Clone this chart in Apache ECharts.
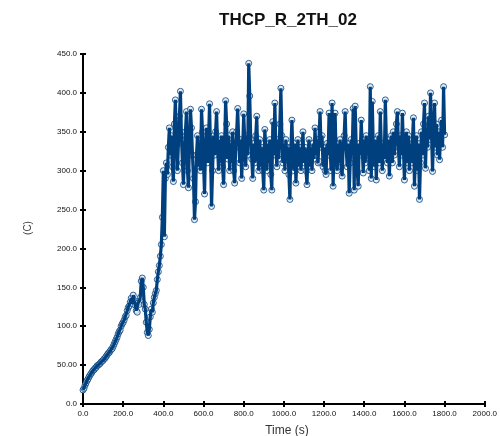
<!DOCTYPE html>
<html>
<head>
<meta charset="utf-8">
<script src="https://cdn.jsdelivr.net/npm/echarts@6/dist/echarts.min.js"></script>
<style>
html,body{margin:0;padding:0;background:#fff;}
#chart{width:500px;height:436px;}
</style>
</head>
<body>
<div id="chart"></div>
<script>
// Sampling grid (seconds)
const sampleStep = 5;
// Temperature (C), t = 0 .. 400 s
const tempRise = [
  18,20,24,27,30,32,35,37,39,41,
  43,44,46,47,49,50,51,52,54,55,
  56,58,59,61,63,65,66,68,70,71,
  74,77,80,83,86,90,93,95,100,103,
  105,108,112,114,120,124,126,131,136,129,
  140,133,127,120,118,130,128,137,158,162,
  150,128,122,105,92,88,96,112,122,118,
  130,137,142,146,160,170,178,190,205,240,
  300
];
// Temperature (C), t = 405 .. 1800 s
const tempPlateau = [
  215,290,310,295,330,355,320,345,305,286,
  360,391,340,300,335,370,402,345,310,282,
  325,350,376,300,278,340,379,355,320,290,
  237,260,320,345,305,335,300,379,350,310,
  270,330,355,310,340,386,320,254,300,345,
  320,350,376,330,300,340,310,345,305,282,
  330,390,360,315,345,300,335,310,350,300,
  284,330,350,380,340,310,340,290,330,373,
  340,305,345,320,438,396,340,315,290,335,
  310,345,370,320,300,340,305,330,300,275,
  353,330,300,335,310,340,295,275,363,320,
  387,330,305,340,315,360,406,345,310,335,
  300,340,315,330,295,263,330,365,320,300,
  335,284,320,340,305,330,300,325,350,310,
  330,300,282,320,340,305,330,300,335,315,
  355,320,340,310,312,376,330,345,305,330,
  300,295,335,320,374,330,300,387,280,330,
  374,320,300,335,310,340,305,293,330,345,
  376,330,305,335,271,310,340,320,380,275,
  383,330,300,280,335,320,365,330,297,340,
  310,345,320,340,300,408,290,389,330,305,
  340,288,325,345,310,376,330,300,335,315,
  391,340,310,340,293,330,345,310,350,320,
  340,360,376,330,305,345,320,374,330,288,
  330,350,310,345,300,335,310,340,368,280,
  320,345,300,335,263,310,350,320,360,387,
  303,350,330,370,340,400,350,299,345,387,
  330,360,320,350,314,345,365,330,408,346
];
const xTicks = [0,200,400,600,800,1000,1200,1400,1600,1800,2000];
const yTicks = [0,50,100,150,200,250,300,350,400,450];
const chartTitle = 'THCP_R_2TH_02';
const xName = 'Time (s)';
const yName = '(C)';

const temps = tempRise.concat(tempPlateau);
const seriesData = temps.map((v, i) => [i * sampleStep, v]);

const lineColor = '#00407f';
const labelFont = '"Liberation Sans Narrow", "Arial Narrow", "Liberation Sans", sans-serif';
const axisBase = {
  type: 'value',
  splitLine: { show: false },
  axisLine: { show: true, onZero: false, lineStyle: { color: '#000', width: 2 } },
  axisTick: { show: true, inside: false, length: 3, lineStyle: { color: '#000', width: 2 } }
};

const chart = echarts.init(document.getElementById('chart'), null, { renderer: 'canvas' });
chart.setOption({
  animation: false,
  backgroundColor: '#fff',
  grid: { left: 83, top: 54, width: 408, height: 350, containLabel: false },
  xAxis: [
    Object.assign({}, axisBase, {
      min: xTicks[0], max: xTicks[xTicks.length - 1], interval: 200, position: 'bottom',
      axisLabel: { margin: 6, fontSize: 8, color: '#111', fontFamily: labelFont,
        formatter: v => v.toFixed(1) }
    }),
    Object.assign({}, axisBase, {
      min: xTicks[0], max: xTicks[xTicks.length - 1], interval: 200, position: 'bottom',
      axisLine: { show: false },
      axisTick: { show: true, inside: true, length: 3, lineStyle: { color: '#000', width: 2 } },
      axisLabel: { show: false }
    })
  ],
  yAxis: [
    Object.assign({}, axisBase, {
      min: yTicks[0], max: yTicks[yTicks.length - 1], interval: 50, position: 'left',
      axisLabel: { margin: 6, fontSize: 8, color: '#111', fontFamily: labelFont,
        formatter: v => (v === 50 ? '50.00' : v.toFixed(1)) }
    }),
    Object.assign({}, axisBase, {
      min: yTicks[0], max: yTicks[yTicks.length - 1], interval: 50, position: 'left',
      axisLine: { show: false },
      axisTick: { show: true, inside: true, length: 3, lineStyle: { color: '#000', width: 2 } },
      axisLabel: { show: false }
    })
  ],
  graphic: [
    { type: 'text', x: 288, y: 20, style: { text: chartTitle, fontSize: 17, fontWeight: 'bold',
      fontFamily: '"Liberation Sans", Arial, sans-serif', fill: '#111', align: 'center', verticalAlign: 'middle' } },
    { type: 'text', x: 287, y: 431, style: { text: xName, fontSize: 12,
      fontFamily: '"Liberation Sans", Arial, sans-serif', fill: '#333', align: 'center', verticalAlign: 'middle' } },
    { type: 'text', x: 28, y: 228, rotation: Math.PI / 2, style: { text: yName, fontSize: 10,
      fontFamily: '"Liberation Sans", Arial, sans-serif', fill: '#444', align: 'center', verticalAlign: 'middle' } }
  ],
  series: [
    {
      type: 'scatter', name: 'markers', data: seriesData, z: 2,
      symbol: 'circle', symbolSize: 6,
      itemStyle: { color: '#dfe8f2', borderColor: lineColor, borderWidth: 1 },
      silent: true
    },
    {
      type: 'line', name: chartTitle, data: seriesData, z: 3,
      showSymbol: false, lineStyle: { color: lineColor, width: 3.2 },
      itemStyle: { color: lineColor }
    }
  ]
});
</script>
</body>
</html>
